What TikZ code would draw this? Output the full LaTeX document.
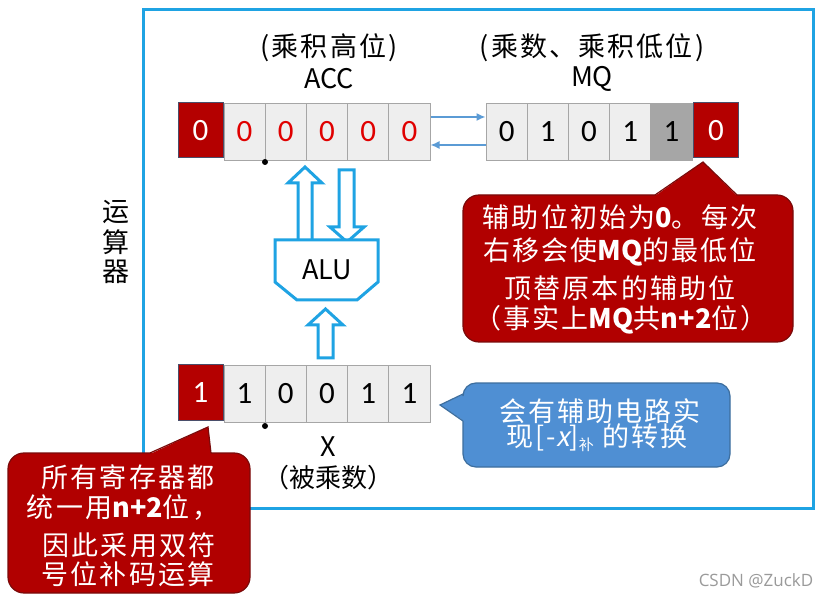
\documentclass[tikz,border=0pt]{standalone}
\usepackage{fontspec}
\setmainfont{Noto Sans CJK SC}
\newfontfamily\cjksp[LetterSpace=8]{Noto Sans CJK SC}
\newfontfamily\cjkslant[FakeSlant=0.2]{Noto Sans CJK SC}
\newfontfamily\digitfont{Carlito}
\newfontfamily\wmfont{Open Sans}
\usetikzlibrary{arrows.meta}
\definecolor{frameblue}{HTML}{1FA3E3}
\definecolor{regred}{HTML}{B40000}
\definecolor{signborder}{HTML}{4A4E6A}
\definecolor{cellgray}{HTML}{EEEEEE}
\definecolor{cellborder}{HTML}{A6A6A6}
\definecolor{darkcell}{HTML}{A6A6A6}
\definecolor{digitred}{HTML}{E00000}
\definecolor{credfill}{HTML}{B10000}
\definecolor{credborder}{HTML}{7A0A0A}
\definecolor{cbluefill}{HTML}{4F8FD3}
\definecolor{cblueborder}{HTML}{3D6E9E}
\definecolor{linkblue}{HTML}{5B9BD5}
\definecolor{wmgray}{HTML}{9A9A9A}
\newcommand{\latinb}[1]{{\normalfont\bfseries #1}}
\tikzset{
  frame/.style={draw=frameblue, line width=3pt},
  hollow/.style={draw=frameblue, line width=3pt, fill=white, line join=miter},
  cell/.style={draw=cellborder, fill=cellgray, line width=1pt, minimum width=41.2pt,
    minimum height=57pt, inner sep=0pt, font=\digitfont\fontsize{31}{31}\selectfont},
  signcell/.style={draw=signborder, fill=regred, text=white, line width=1pt,
    minimum width=45pt, minimum height=55pt, inner sep=0pt,
    font=\digitfont\fontsize{31}{31}\selectfont},
  lbl/.style={font=\cjksp\fontsize{27}{27}\selectfont, inner sep=0pt},
  latinlbl/.style={font=\fontsize{27}{27}\selectfont, inner sep=0pt},
  link/.style={draw=linkblue, line width=1.5pt, -{Latex[length=9pt,width=8pt]}},
  dotnode/.style={circle, fill=black, inner sep=0pt, minimum size=6pt},
  credfillst/.style={fill=credfill},
  credline/.style={draw=credborder, line width=1.2pt},
  cbluefillst/.style={fill=cbluefill},
  cblueline/.style={draw=cblueborder, line width=1.2pt},
  ctext/.style={text=white, inner sep=0pt, font=\cjksp\fontsize{27}{27}\selectfont},
  wm/.style={text=wmgray, inner sep=0pt, font=\wmfont\fontsize{17}{17}\selectfont},
}
\begin{document}
\begin{tikzpicture}[x=1pt,y=-1pt]
\useasboundingbox (0,0) rectangle (835,601);
\fill[white] (0,0) rectangle (835,601);

% frame of the operator unit
\draw[frame] (143,10) rectangle (813,508);
\node[lbl] (yun) at (116,212) {运};
\node[lbl] (suan) at (116,242) {算};
\node[lbl] (qi) at (116,272) {器};

% labels
\node[lbl] (accl1) at (329,48) {(乘积高位)};
\node[latinlbl] (accl2) at (329,79) {ACC};
\node[lbl] (mql1) at (592,48) {(乘数、乘积低位)};
\node[latinlbl] (mql2) at (592,79) {MQ};

% ACC register
\node[signcell] (a0) at (200.5,130.5) {0};
\node[cell, text=digitred] (a1) at (244.6,132) {0};
\node[cell, text=digitred] (a2) at (285.8,132) {0};
\node[cell, text=digitred] (a3) at (327.0,132) {0};
\node[cell, text=digitred] (a4) at (368.2,132) {0};
\node[cell, text=digitred] (a5) at (409.4,132) {0};
\node[dotnode] (da) at (265,162) {};

% MQ register
\node[cell] (m1) at (506.6,132) {0};
\node[cell] (m2) at (547.8,132) {1};
\node[cell] (m3) at (589.0,132) {0};
\node[cell] (m4) at (630.2,132) {1};
\node[cell, fill=darkcell] (m5) at (671.4,132) {1};
\node[signcell] (m0) at (716,130.5) {0};

% ACC <-> MQ
\draw[link] ([yshift=15pt]a5.east) -- ([yshift=15pt]m1.west);
\draw[link] ([yshift=-13pt]m1.west) -- ([yshift=-13pt]a5.east);

% hollow arrows
\draw[hollow] (298,240) -- (298,183) -- (288,183) -- (305,167) -- (322,183) -- (312,183) -- (312,240);
\draw[hollow] (339,170) -- (354,170) -- (354,227) -- (364,227) -- (347,242) -- (330,227) -- (339,227) -- cycle;
\draw[hollow] (318,358) -- (318,325) -- (308,325) -- (325.5,309) -- (343,325) -- (333,325) -- (333,358) -- cycle;

% ALU
\draw[hollow] (275,240) -- (378,240) -- (378,282) -- (357,300) -- (297,300) -- (275,282) -- cycle;
\node[latinlbl] (alu) at (327,270) {ALU};

% X register
\node[signcell] (x0) at (200.5,392.5) {1};
\node[cell] (x1) at (244.6,394) {1};
\node[cell] (x2) at (285.8,394) {0};
\node[cell] (x3) at (327.0,394) {0};
\node[cell] (x4) at (368.2,394) {1};
\node[cell] (x5) at (409.4,394) {1};
\node[dotnode] (dx) at (265,426) {};
\node[latinlbl] (xl1) at (328,447) {X};
\node[lbl, font=\fontsize{26}{26}\selectfont] (xl2) at (328,478) {（被乘数）};

% right red callout
\fill[credfillst, rounded corners=16pt] (463,195) rectangle (793,342);
\fill[credfillst] (655,196) -- (703,162) -- (737,196) -- cycle;
\draw[credline, rounded corners=16pt] (737,195) -- (793,195) -- (793,342) -- (463,342) -- (463,195) -- (655,195);
\draw[credline] (655,195) -- (703,162) -- (737,195);
\node[ctext] (r1) at (620,217) {辅助位初始为\latinb{0}。每次};
\node[ctext] (r2) at (620,252) {右移会使\latinb{MQ}的最低位};
\node[ctext] (r3) at (620,288) {顶替原本的辅助位};
\node[ctext] (r4) at (621,320) {（事实上\latinb{MQ}共\latinb{n+2}位）};

% blue callout
\fill[cbluefillst, rounded corners=13pt] (463,383) rectangle (730,467);
\fill[cbluefillst] (464,394) -- (440,405) -- (464,421) -- cycle;
\draw[cblueline, rounded corners=13pt] (463,421) -- (463,467) -- (730,467) -- (730,383) -- (463,383) -- (463,394);
\draw[cblueline] (463,394) -- (440,405) -- (463,421);
\node[ctext] (b1) at (600,411) {会有辅助电路实};
\node[ctext] (b2) at (597,438) {现[-{\cjkslant x}]\raisebox{-4pt}{\fontsize{15}{15}\selectfont 补} 的转换};

% left red callout
\fill[credfillst, rounded corners=16pt] (8,453) rectangle (250,593);
\fill[credfillst] (150,454) -- (208,427) -- (211,454) -- cycle;
\draw[credline, rounded corners=16pt] (211,453) -- (250,453) -- (250,593) -- (8,593) -- (8,453) -- (150,453);
\draw[credline] (150,453) -- (208,427) -- (211,453);
\node[ctext] (l1) at (128,477) {所有寄存器都};
\node[ctext] (l2) at (123,508) {统一用\latinb{n+2}位，};
\node[ctext] (l3) at (129,545) {因此采用双符};
\node[ctext] (l4) at (128,574) {号位补码运算};

% watermark
\node[wm] (wmk) at (756,581) {CSDN @ZuckD};
\end{tikzpicture}
\end{document}
